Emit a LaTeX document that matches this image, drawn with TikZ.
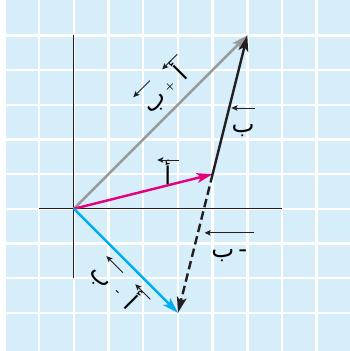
\documentclass[tikz,border=0pt]{standalone}
\usepackage{fontspec}
\usepackage{xcolor}
\usepackage{tikz}
\usetikzlibrary{arrows.meta,positioning,calc}
\TeXXeTstate=1
\newfontfamily\arabicfont[Script=Arabic]{DejaVu Sans}
\definecolor{gridbg}{HTML}{D6EDFA}
\definecolor{vpink}{HTML}{E6007E}
\definecolor{vblue}{HTML}{00AEEF}
\definecolor{vgray}{HTML}{999999}
\definecolor{vblack}{HTML}{231F20}

\begin{document}
\begin{tikzpicture}[
  vec/.style={-{Stealth[length=13pt, width=8pt, inset=3pt]}, line width=2pt},
  axis/.style={line width=0.8pt, vblack},
  lbl/.style={font=\arabicfont\fontsize{20}{24}\selectfont, inner sep=0pt, text height=0.71cm, text depth=0pt, minimum width=0.6cm, anchor=base},
  op/.style={font=\small\bfseries, inner sep=0pt},
  varr/.style={-{Stealth[length=5pt, width=4.5pt, inset=1pt]}, line width=0.7pt, vblack}
]
  \useasboundingbox (-2.13,-4.1) rectangle (7.96,6.02);
  % grid
  \fill[gridbg] (-2,-4.1) rectangle (7.96,6.02);
  \foreach \x in {-2,...,7} \draw[white, line width=2pt] (\x,-4.1) -- (\x,6.02);
  \foreach \y in {-3,...,5} \draw[white, line width=2pt] (-2,\y) -- (7.96,\y);

  % axes
  \coordinate (xl) at (-1,0);
  \coordinate (xr) at (6,0);
  \coordinate (yb) at (0,-2);
  \coordinate (yt) at (0,5);
  \draw[axis] (xl) -- (xr);
  \draw[axis] (yb) -- (yt);

  % vectors
  \coordinate (O) at (0,0);
  \coordinate (A) at (4,1);
  \coordinate (S) at (5,5);
  \coordinate (D) at (3,-3);
  \draw[vec, vgray] (O) -- (S);
  \draw[vec, vpink] (O) -- (A);
  \draw[vec, vblue] (O) -- (D);
  \draw[vec, vblack] (A) -- (S);
  \draw[vec, vblack, dash pattern=on 7pt off 3.5pt] (A) -- (D);

  % labels
  \node[lbl] (la) at (2.71,0.69) {\beginR أ\endR};
  \node[lbl] (lb) at (4.88,2.19) {\beginR ب\endR};
  \node[lbl, minimum width=1.41cm] (lnb) at (4.48,-1.41) {\beginR -\,ب\endR};

  \node[lbl, rotate=45] (sa) at (3.27,3.73) {\beginR أ\endR};
  \node[op, rotate=45] (sp) at (2.77,3.52) {+};
  \node[lbl, rotate=45] (sb) at (2.46,2.95) {\beginR ب\endR};

  \node[lbl, rotate=-45] (db) at (0.67,-2.11) {\beginR ب\endR};
  \node[op, rotate=-45] (dm) at (1.24,-2.42) {-};
  \node[lbl, rotate=-45] (da) at (1.48,-2.90) {\beginR أ\endR};

  \foreach \n in {la,lb,lnb,sa,sb,da,db}
    \draw[varr] (\n.north east) -- (\n.north west);
\end{tikzpicture}
\end{document}
